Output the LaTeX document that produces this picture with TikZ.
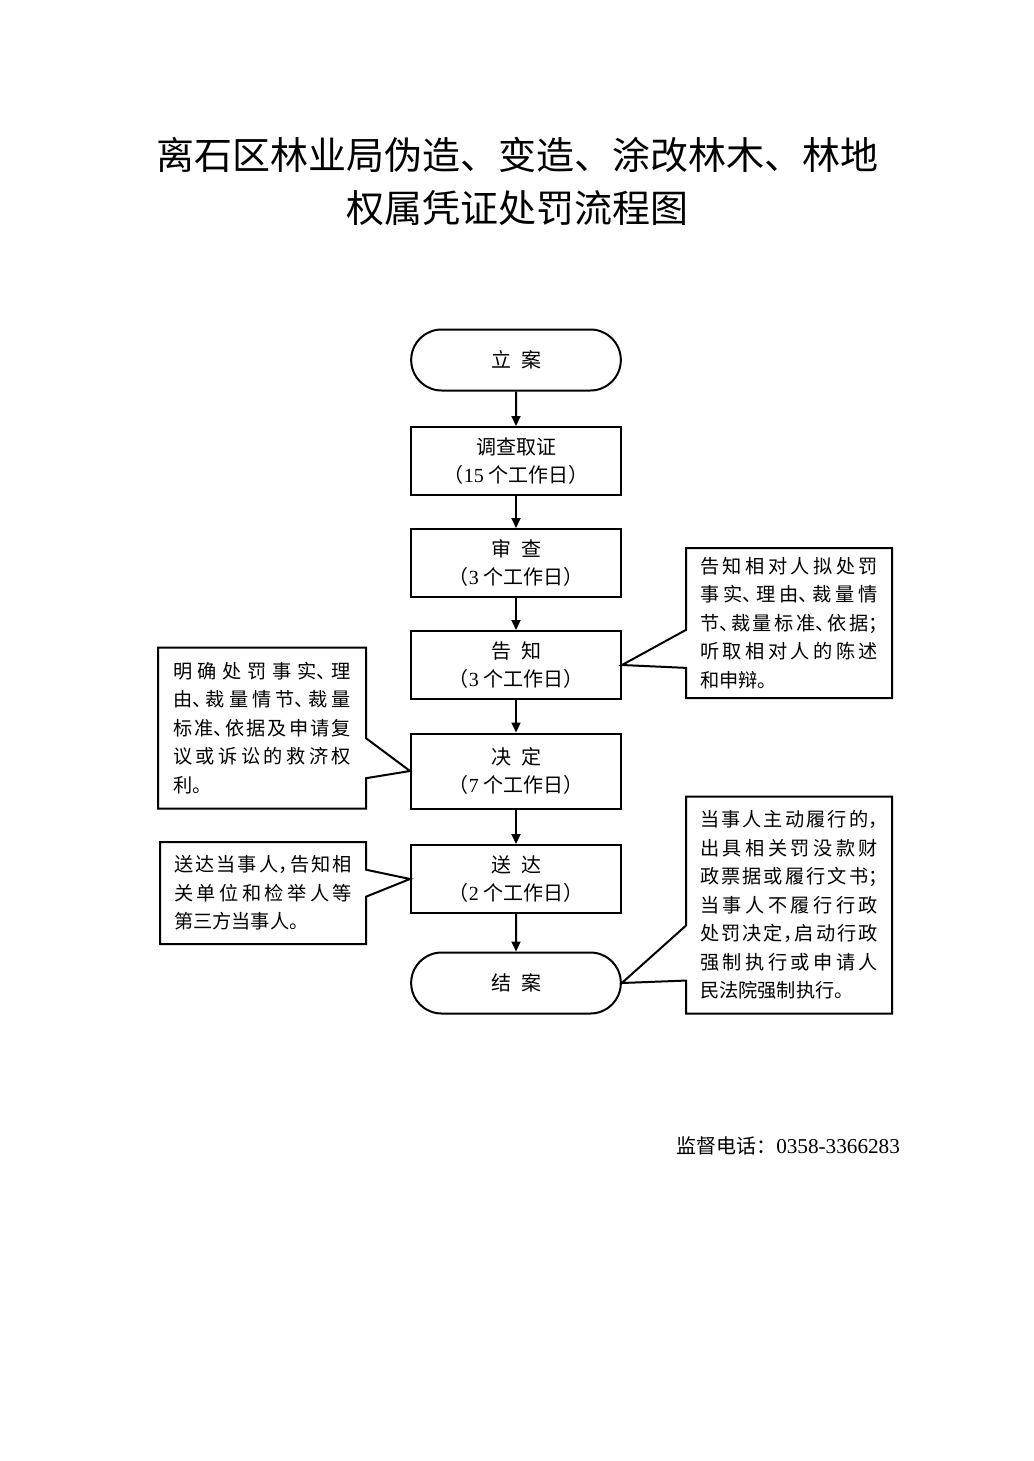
\documentclass[tikz,border=0pt]{standalone}
\usepackage{fontspec}
\setmainfont{Liberation Serif}
\newfontfamily\cjk{Noto Sans CJK SC}
\newfontfamily\cjkh[RawFeature=+halt]{Noto Sans CJK SC}
\usetikzlibrary{shapes.misc, shapes.callouts, arrows.meta}
\XeTeXlinebreakskip=0pt plus 6pt
\newcommand{\cjkbreak}{\XeTeXlinebreaklocale "zh"}
\newcommand{\workdays}[1]{（{\rmfamily #1} 个工作日）}

\begin{document}
\begin{tikzpicture}[x=0.5pt, y=-0.5pt,
        stepbox/.style={draw, line width=1pt, rectangle, minimum width=105pt, minimum height=34pt, align=center, font=\cjk\fontsize{10}{14}\selectfont},
        endbox/.style={stepbox, rounded rectangle, minimum width=111.5pt, minimum height=30.5pt},
        notebox/.style={draw, line width=1pt, rectangle callout, minimum width=103pt, text width=89pt, inner xsep=7pt, align=justify, font=\cjkh\fontsize{9.6}{14.25}\selectfont\cjkbreak},
        arr/.style={line width=1pt, -{Triangle[length=5pt, width=4.5pt]}}]
        \useasboundingbox (0, 0) rectangle (1033, 1461);
        \node[font=\cjk\fontsize{19}{26.5}\selectfont, align=center] at (517, 181) (0) {离石区林业局伪造、变造、涂改林木、林地\\权属凭证处罚流程图};
        \node[endbox] at (516, 360) (1) {立\hspace{.5em}案};
        \node[stepbox] at (516, 461) (2) {调查取证\\ \workdays{15}};
        \node[stepbox] at (516, 563) (3) {审\hspace{.5em}查\\ \workdays{3}};
        \node[stepbox] at (516, 665) (4) {告\hspace{.5em}知\\ \workdays{3}};
        \node[stepbox, minimum height=37.5pt] at (516, 771) (5) {决\hspace{.5em}定\\ \workdays{7}};
        \node[stepbox] at (516, 879) (6) {送\hspace{.5em}达\\ \workdays{2}};
        \node[endbox] at (516, 983) (7) {结\hspace{.5em}案};
        \node[notebox, minimum height=75pt, callout absolute pointer={(4.east)}, callout pointer width=19pt] at (789, 623) (8) {告知相对人拟处罚\linebreak
                事实、理由、裁量情\linebreak
                节、裁量标准、依据；\linebreak
                听取相对人的陈述\linebreak
                和申辩。};
        \node[notebox, minimum width=104pt, minimum height=80.5pt, callout absolute pointer={(5.west)}, callout pointer width=20pt] at (262, 728) (9) {明确处罚事实、理\linebreak
                由、裁量情节、裁量\linebreak
                标准、依据及申请复\linebreak
                议或诉讼的救济权\linebreak
                利。};
        \node[notebox, minimum height=51pt, callout absolute pointer={(6.west)}, callout pointer width=13.5pt] at (263, 893) (10) {送达当事人，告知相\linebreak
                关单位和检举人等\linebreak
                第三方当事人。};
        \node[notebox, minimum height=108.5pt, callout absolute pointer={(7.east)}, callout pointer width=27.5pt] at (789, 905) (11) {当事人主动履行的，\linebreak
                出具相关罚没款财\linebreak
                政票据或履行文书；\linebreak
                当事人不履行行政\linebreak
                处罚决定，启动行政\linebreak
                强制执行或申请人\linebreak
                民法院强制执行。};
        \node[anchor=east, font=\cjk\fontsize{10}{12}\selectfont] at (907, 1146) (12) {监督电话：{\rmfamily\fontsize{10.6}{12}\selectfont 0358-3366283}};
        \draw[arr] (1) edge (2);
        \draw[arr] (2) edge (3);
        \draw[arr] (3) edge (4);
        \draw[arr] (4) edge (5);
        \draw[arr] (5) edge (6);
        \draw[arr] (6) edge (7);
\end{tikzpicture}
\end{document}
